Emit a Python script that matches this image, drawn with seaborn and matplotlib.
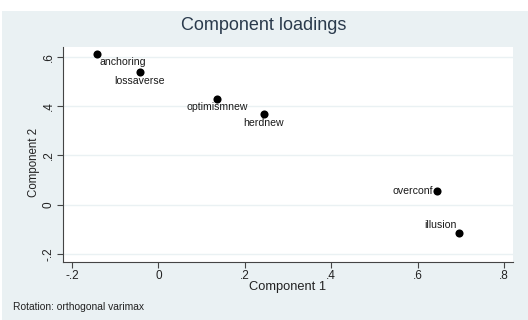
import matplotlib
matplotlib.use("Agg")
import matplotlib.pyplot as plt
import seaborn as sns
import pandas as pd
from matplotlib.patches import Rectangle

variables = ["anchoring", "lossaverse", "optimismnew", "herdnew", "overconf", "illusion"]
comp1 = [-0.142, -0.043, 0.136, 0.244, 0.645, 0.696]
comp2 = [0.612, 0.539, 0.430, 0.369, 0.057, -0.114]
xticks = [-0.2, 0.0, 0.2, 0.4, 0.6, 0.8]
xticklabels = ["-.2", "0", ".2", ".4", ".6", ".8"]
yticks = [-0.2, 0.0, 0.2, 0.4, 0.6]
yticklabels = ["-.2", "0", ".2", ".4", ".6"]

df = pd.DataFrame({"var": variables, "c1": comp1, "c2": comp2})

sns.set_style("white")
plt.rcParams["font.family"] = ["Liberation Sans", "DejaVu Sans"]

bg = "#eaf1f3"
fig = plt.figure(figsize=(5.28, 3.2), dpi=100, facecolor="white")
fig.patches.append(Rectangle((2 / 528, 0), 1, (320 - 11) / 320, transform=fig.transFigure,
                             facecolor=bg, edgecolor="none", zorder=-10))
ax = fig.add_axes([63 / 528, 1 - 262 / 320, (513 - 63) / 528, (262 - 47) / 320])
ax.set_zorder(5)
ax.set_facecolor("white")

sns.scatterplot(data=df, x="c1", y="c2", ax=ax, color="black", s=34, edgecolor="black",
                linewidth=0, zorder=3, legend=False)

# label offsets in points (dx, dy) and alignments
offsets = {
    "anchoring": (2, -2, "left", "top"),
    "lossaverse": (0, -3, "center", "top"),
    "optimismnew": (0, -2.5, "center", "top"),
    "herdnew": (0, -3, "center", "top"),
    "overconf": (-3, 0, "right", "center"),
    "illusion": (-2, 2, "right", "bottom"),
}
for v, x, y in zip(variables, comp1, comp2):
    dx, dy, ha, va = offsets[v]
    ax.annotate(v, (x, y), xytext=(dx, dy), textcoords="offset points", ha=ha, va=va,
                fontsize=7.6, color="#1a1a1a")

ax.set_xlim(-0.221, 0.821)
ax.set_ylim(-0.232, 0.64)
ax.set_xticks(xticks)
ax.set_xticklabels(xticklabels)
ax.set_yticks(yticks)
ax.set_yticklabels(yticklabels, rotation=90, va="center")
ax.tick_params(axis="both", direction="out", length=4, width=0.8, color="#444444",
               labelsize=8.5, labelcolor="#222222", pad=2, left=True, bottom=True)
ax.yaxis.grid(True, color=bg, linewidth=1)
ax.xaxis.grid(False)
for s in ["top", "right"]:
    ax.spines[s].set_visible(False)
for s in ["left", "bottom"]:
    ax.spines[s].set_color("#444444")
    ax.spines[s].set_linewidth(0.8)

ax.set_xlabel("Component 1", fontsize=9.3, color="#222222", labelpad=-1)
ax.set_ylabel("Component 2", fontsize=8.3, color="#222222")
ax.yaxis.set_label_coords(-0.05, 0.465)
fig.text(0.5, 1 - 25 / 320, "Component loadings", ha="center", va="center",
         fontsize=13, color="#2a3a4c")
fig.text(13 / 528, 1 - 307 / 320, "Rotation: orthogonal varimax", ha="left", va="center",
         fontsize=7.4, color="#222222")

fig.savefig("out.png", dpi=100, facecolor=fig.get_facecolor())
